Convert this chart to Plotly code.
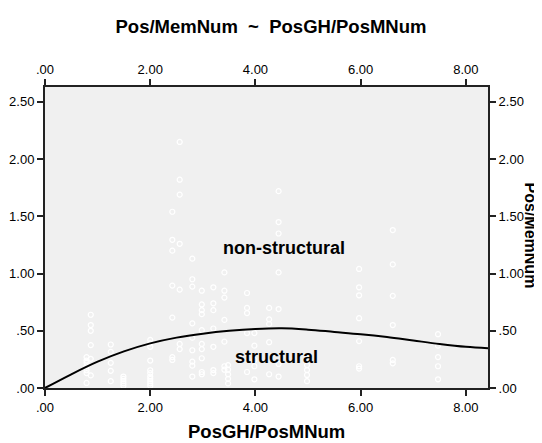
import plotly.graph_objects as go

# ---- data ----
col_x = [0.79, 0.87, 1.25, 1.49, 2.0, 2.42, 2.56, 2.80, 2.98, 3.20,
         3.41, 3.48, 3.84, 3.98, 4.26, 4.44, 4.98, 5.97, 6.61, 7.47]
col_y = [
    [0.27, 0.24, 0.22, 0.19, 0.155, 0.13, 0.044],
    [0.64, 0.55, 0.50, 0.375, 0.255, 0.11],
    [0.38, 0.316, 0.22, 0.15, 0.06],
    [0.10, 0.08, 0.06, 0.04, 0.02],
    [0.42, 0.39, 0.36, 0.24, 0.155, 0.13, 0.10, 0.08, 0.06, 0.04, 0.02],
    [1.54, 1.295, 1.20, 0.895, 0.615, 0.27, 0.245],
    [2.15, 1.82, 1.69, 1.26, 0.86, 0.385, 0.34],
    [1.13, 0.95, 0.886, 0.565, 0.44, 0.33, 0.23, 0.195, 0.10],
    [0.85, 0.73, 0.68, 0.645, 0.505, 0.385, 0.34, 0.26, 0.14, 0.12],
    [0.88, 0.74, 0.68, 0.52, 0.36, 0.157, 0.13],
    [1.01, 0.85, 0.79, 0.595, 0.405, 0.19, 0.16],
    [0.20, 0.16, 0.12, 0.08, 0.04],
    [0.83, 0.70, 0.655, 0.48, 0.14],
    [0.48, 0.37, 0.245, 0.19, 0.076],
    [0.70, 0.60, 0.56, 0.40, 0.12],
    [1.72, 1.45, 1.35, 1.01, 0.69, 0.21, 0.10],
    [0.20, 0.157, 0.114, 0.06],
    [1.04, 0.88, 0.81, 0.61, 0.41, 0.19, 0.17],
    [1.38, 1.08, 0.805, 0.55, 0.245, 0.216],
    [0.47, 0.37, 0.27, 0.19, 0.076],
]

curve_x = [0, 0.5, 1.0, 1.5, 2.0, 2.5, 3.0, 3.5, 4.0, 4.5, 5.0, 5.5,
           6.0, 6.5, 7.0, 7.5, 8.0, 8.42]
curve_y = [0, 0.12, 0.23, 0.32, 0.39, 0.44, 0.475, 0.50, 0.516, 0.522,
           0.51, 0.49, 0.47, 0.445, 0.415, 0.385, 0.36, 0.347]

x_tickvals = [0, 2, 4, 6, 8]
x_ticktext = [".00", "2.00", "4.00", "6.00", "8.00"]
y_tickvals = [0, 0.5, 1.0, 1.5, 2.0, 2.5]
y_ticktext = [".00", ".50", "1.00", "1.50", "2.00", "2.50"]

x_range = [0, 8.42]
y_range = [0, 2.63]

title_text = "Pos/MemNum  ~  PosGH/PosMNum"
x_title = "PosGH/PosMNum"
y_title = "Pos/MemNum"
label_upper = "non-structural"
label_lower = "structural"
label_upper_pos = (4.54, 1.22)
label_lower_pos = (4.40, 0.27)

# ---- build ----
px, py = [], []
for xv, ys in zip(col_x, col_y):
    for yv in ys:
        px.append(xv)
        py.append(yv)

FONT = "Liberation Sans, Arial, sans-serif"

fig = go.Figure()
fig.add_trace(go.Scatter(
    x=px, y=py, mode="markers",
    marker=dict(symbol="circle-open", size=5, color="white",
                line=dict(color="white", width=1.2)),
    hoverinfo="skip", showlegend=False))
fig.add_trace(go.Scatter(
    x=curve_x, y=curve_y, mode="lines",
    line=dict(color="black", width=2, shape="spline"),
    hoverinfo="skip", showlegend=False))
# invisible trace to anchor top/right axes
fig.add_trace(go.Scatter(x=[x_range[0]], y=[y_range[0]], xaxis="x2", yaxis="y2",
                         mode="markers", marker=dict(opacity=0),
                         hoverinfo="skip", showlegend=False))

axis_common = dict(showgrid=False, zeroline=False, showline=True,
                   linecolor="#222222", linewidth=2, ticks="outside",
                   ticklen=6, tickwidth=2, tickcolor="#222222",
                   automargin=False,
                   tickfont=dict(family=FONT, size=13, color="black"))

W, H = 534, 435  # page body has an 8px margin in the browser
fig.update_layout(
    width=W, height=H,
    margin=dict(l=37, r=54, t=79, b=55),
    paper_bgcolor="white",
    plot_bgcolor="#f0f0f0",
    title=dict(text="<b>" + title_text + "</b>", x=(271 - 8) / W,
               xanchor="center", y=1 - 19 / H, yanchor="middle",
               automargin=False,
               font=dict(family=FONT, size=18.5, color="black")),
    xaxis=dict(range=x_range, tickvals=x_tickvals, ticktext=x_ticktext,
               **axis_common),
    yaxis=dict(range=y_range, tickvals=y_tickvals, ticktext=y_ticktext,
               **axis_common),
    xaxis2=dict(range=x_range, tickvals=x_tickvals, ticktext=x_ticktext,
                overlaying="x", side="top", anchor="y", **axis_common),
    yaxis2=dict(range=y_range, tickvals=y_tickvals, ticktext=y_ticktext,
                overlaying="y", side="right", anchor="x", **axis_common),
    annotations=[
        dict(text="<b>" + x_title + "</b>", xref="paper", yref="paper",
             x=0.5, y=-0.146, xanchor="center", yanchor="middle",
             showarrow=False, font=dict(family=FONT, size=18.5, color="black")),
        dict(text="<b>" + y_title + "</b>", xref="paper", yref="paper",
             x=1.096, y=0.508, xanchor="center", yanchor="middle",
             textangle=90, showarrow=False,
             font=dict(family=FONT, size=16, color="black")),
        dict(text="<b>" + label_upper + "</b>", x=label_upper_pos[0],
             y=label_upper_pos[1], xref="x", yref="y", showarrow=False,
             font=dict(family=FONT, size=18, color="black")),
        dict(text="<b>" + label_lower + "</b>", x=label_lower_pos[0],
             y=label_lower_pos[1], xref="x", yref="y", showarrow=False,
             font=dict(family=FONT, size=18, color="black")),
    ],
)

fig.write_html("out.html")
